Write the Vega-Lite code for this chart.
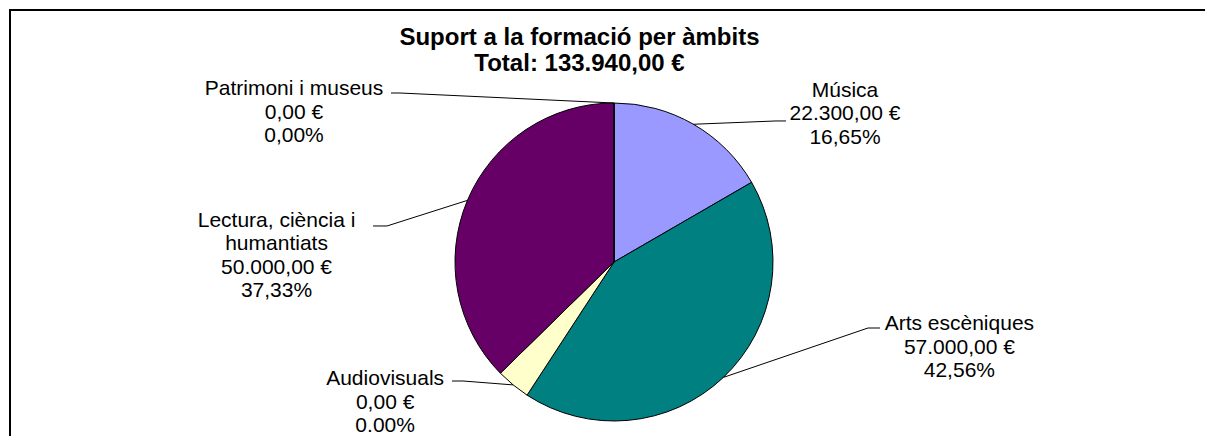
{
  "$schema": "https://vega.github.io/schema/vega-lite/v6.json",
  "width": 1199,
  "height": 430,
  "autosize": {"type": "none"},
  "padding": {"left": 10, "top": 10, "right": -4, "bottom": -4},
  "background": "white",
  "config": {"view": {"stroke": "#000000", "strokeWidth": 2, "fill": "white"}},
  "title": {
    "text": ["Suport a la formació per àmbits", "Total: 133.940,00 €"],
    "font": "Liberation Sans",
    "fontSize": 24,
    "fontWeight": "bold",
    "color": "#000000",
    "anchor": "middle",
    "frame": "group",
    "baseline": "alphabetic",
    "lineHeight": 26,
    "offset": -85,
    "dx": -30
  },
  "data": {
    "values": [
      {"cat": "Música", "n": 1, "value": 22300, "label": "Música\n22.300,00 €\n16,65%"},
      {"cat": "Arts escèniques", "n": 2, "value": 57000, "label": "Arts escèniques\n57.000,00 €\n42,56%"},
      {"cat": "Audiovisuals", "n": 3, "value": 4640, "label": "Audiovisuals\n0,00 €\n0.00%"},
      {"cat": "Lectura, ciència i humantiats", "n": 4, "value": 50000, "label": "Lectura, ciència i\nhumantiats\n50.000,00 €\n37,33%"},
      {"cat": "Patrimoni i museus", "n": 5, "value": 0, "label": "Patrimoni i museus\n0,00 €\n0,00%"}
    ]
  },
  "transform": [
    {"joinaggregate": [{"op": "sum", "field": "value", "as": "total"}]},
    {"window": [{"op": "sum", "field": "value", "as": "cum"}], "sort": [{"field": "n", "order": "ascending"}], "frame": [null, 0]},
    {"calculate": "2*PI*(datum.cum - datum.value/2)/datum.total", "as": "mid"},
    {"calculate": "159*sin(datum.mid)", "as": "ex"},
    {"calculate": "159*cos(datum.mid)", "as": "ey"},
    {"calculate": "datum.ex + [82.6, 144.6, -50.1, -80.4, -214][datum.n-1]", "as": "kx"},
    {"calculate": "datum.ey - [-3.3, -49.4, -3.9, 25.6, -10][datum.n-1]", "as": "ky"},
    {"calculate": "datum.ex + [92.6, 156.6, -61.1, -94.4, -223][datum.n-1]", "as": "lx"},
    {"calculate": "datum.ex + [151.6, 236, -128, -190.9, -320][datum.n-1]", "as": "tx"},
    {"calculate": "datum.ey - [-27.6, -47.4, 0.1, 26.3, -8][datum.n-1]", "as": "ty"}
  ],
  "layer": [
    {
      "mark": {"type": "arc", "outerRadius": 159, "stroke": "#000000", "strokeWidth": 1},
      "encoding": {
        "theta": {"field": "value", "type": "quantitative", "stack": true},
        "order": {"field": "n", "type": "quantitative"},
        "color": {
          "field": "cat",
          "type": "nominal",
          "scale": {
            "domain": ["Música", "Arts escèniques", "Audiovisuals", "Lectura, ciència i humantiats", "Patrimoni i museus"],
            "range": ["#9999FF", "#008080", "#FFFFCC", "#660066", "#CCFFFF"]
          },
          "legend": null
        },
        "x": {"datum": 0, "type": "quantitative", "scale": {"domain": [-604, 595], "nice": false, "zero": false}, "axis": null},
        "y": {"datum": 0, "type": "quantitative", "scale": {"domain": [-178, 252], "nice": false, "zero": false}, "axis": null}
      }
    },
    {
      "mark": {"type": "rule", "stroke": "#000000", "strokeWidth": 1},
      "encoding": {
        "x": {"field": "ex", "type": "quantitative"},
        "y": {"field": "ey", "type": "quantitative"},
        "x2": {"field": "kx"},
        "y2": {"field": "ky"}
      }
    },
    {
      "mark": {"type": "rule", "stroke": "#000000", "strokeWidth": 1},
      "encoding": {
        "x": {"field": "kx", "type": "quantitative"},
        "y": {"field": "ky", "type": "quantitative"},
        "x2": {"field": "lx"},
        "y2": {"field": "ky"}
      }
    },
    {
      "mark": {"type": "text", "align": "center", "baseline": "alphabetic", "lineBreak": "\n", "font": "Liberation Sans", "fontSize": 21, "lineHeight": 23.5, "color": "#000000"},
      "encoding": {
        "x": {"field": "tx", "type": "quantitative"},
        "y": {"field": "ty", "type": "quantitative"},
        "text": {"field": "label", "type": "nominal"}
      }
    }
  ]
}
